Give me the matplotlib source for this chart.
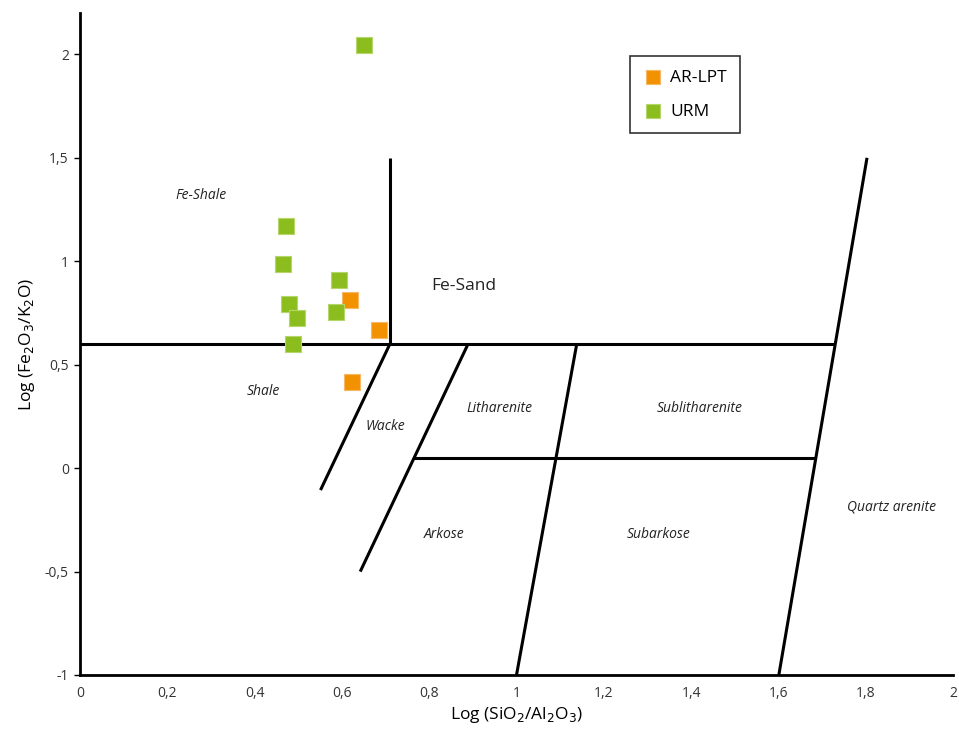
import matplotlib
matplotlib.use("Agg")
import matplotlib.pyplot as plt

plt.rcParams['font.family'] = ['Open Sans', 'DejaVu Sans']

# Data
urm_x = [0.651, 0.472, 0.465, 0.478, 0.497, 0.488, 0.594, 0.587]
urm_y = [2.043, 1.169, 0.986, 0.792, 0.725, 0.600, 0.908, 0.754]
ar_x = [0.619, 0.685, 0.624]
ar_y = [0.812, 0.667, 0.415]

# Field boundaries (Herron 1988 classification)
boundaries = [
    ([0.0, 1.728], [0.6, 0.6]),
    ([0.71, 0.71], [0.6, 1.5]),
    ([0.71, 0.551], [0.6, -0.106]),
    ([0.889, 0.642], [0.6, -0.5]),
    ([1.138, 1.0], [0.6, -1.0]),
    ([0.764, 1.683], [0.048, 0.048]),
    ([1.803, 1.601], [1.5, -1.0]),
]

field_labels = [
    ("Fe-Shale", 0.277, 1.32, True, 10),
    ("Fe-Sand", 0.88, 0.88, False, 12.5),
    ("Shale", 0.42, 0.37, True, 10),
    ("Wacke", 0.70, 0.20, True, 10),
    ("Litharenite", 0.96, 0.29, True, 10),
    ("Sublitharenite", 1.42, 0.29, True, 10),
    ("Arkose", 0.835, -0.32, True, 10),
    ("Subarkose", 1.325, -0.32, True, 10),
    ("Quartz arenite", 1.86, -0.19, True, 10),
]

xticks = [0, 0.2, 0.4, 0.6, 0.8, 1.0, 1.2, 1.4, 1.6, 1.8, 2.0]
xticklabels = ["0", "0,2", "0,4", "0,6", "0,8", "1", "1,2", "1,4", "1,6", "1,8", "2"]
yticks = [-1, -0.5, 0, 0.5, 1, 1.5, 2]
yticklabels = ["-1", "-0,5", "0", "0,5", "1", "1,5", "2"]

fig = plt.figure(figsize=(9.59, 7.31), dpi=100)
ax = fig.add_axes([80/959, 1 - 675/731, 873/959, 662/731])

for bx, by in boundaries:
    ax.plot(bx, by, color="black", lw=2.2, solid_capstyle="butt", zorder=2)

ax.scatter(ar_x, ar_y, marker="s", s=140, color="#f39200", edgecolors="#f6b866",
           linewidths=0.8, zorder=3, label="AR-LPT")
ax.scatter(urm_x, urm_y, marker="s", s=140, color="#8cbd1e", edgecolors="#b5d66a",
           linewidths=0.8, zorder=3, label="URM")

for txt, x, y, it, fs in field_labels:
    ax.text(x, y, txt, ha="center", va="center", fontsize=fs,
            style="italic" if it else "normal", color="#222222")

ax.set_xlim(0, 2.0)
ax.set_ylim(-1, 2.2)
ax.set_xticks(xticks)
ax.set_xticklabels(xticklabels, fontsize=10, color="#333333")
ax.set_yticks(yticks)
ax.set_yticklabels(yticklabels, fontsize=10, color="#333333")
ax.tick_params(axis="x", length=0, pad=8)
ax.tick_params(axis="y", length=4, width=1, pad=4)
for s in ["top", "right"]:
    ax.spines[s].set_visible(False)
for s in ["left", "bottom"]:
    ax.spines[s].set_linewidth(2)

ax.set_xlabel("Log (SiO$_2$/Al$_2$O$_3$)", fontsize=12.5, labelpad=3)
ax.set_ylabel("Log (Fe$_2$O$_3$/K$_2$O)", fontsize=12.5, labelpad=6)

leg = ax.legend(loc="upper left", bbox_to_anchor=(550/873, 1 - (56-13)/662),
                borderaxespad=0,
                frameon=True, fancybox=False, edgecolor="black", fontsize=12.5,
                handletextpad=0.5, labelspacing=1.0, borderpad=0.8,
                markerscale=0.8, handlelength=1.0)
leg.get_frame().set_linewidth(1.2)

fig.savefig("out.png", dpi=100)
